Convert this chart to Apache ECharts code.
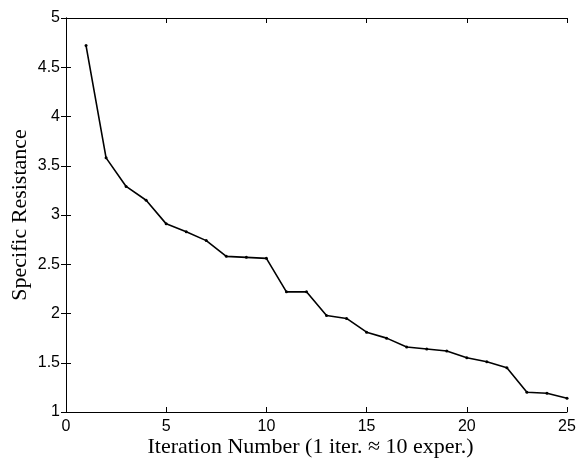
<!DOCTYPE html>
<html>
<head>
<meta charset="utf-8">
<script src="https://cdn.jsdelivr.net/npm/echarts@6/dist/echarts.min.js"></script>
<style>
  html, body { margin: 0; padding: 0; background: #fff; }
  #chart { width: 582px; height: 460px; }
</style>
</head>
<body>
<div id="chart"></div>
<script>
// iteration index and measured specific resistance
const iterations = [1, 2, 3, 4, 5, 6, 7, 8, 9, 10, 11, 12, 13, 14, 15, 16, 17, 18, 19, 20, 21, 22, 23, 24, 25];
const resistance = [4.72, 3.58, 3.29, 3.15, 2.91, 2.83, 2.74, 2.58, 2.57, 2.56, 2.22, 2.22, 1.98, 1.95, 1.81, 1.75, 1.66, 1.64, 1.62, 1.55, 1.51, 1.45, 1.20, 1.19, 1.14];

const points = iterations.map((it, i) => [it, resistance[i]]);

const chart = echarts.init(document.getElementById("chart"));
const tickFont = { fontFamily: "Liberation Sans", fontSize: 16, color: "#000" };
const titleFont = { fontFamily: "Liberation Serif", fontSize: 22, color: "#000" };
const line = { show: true, lineStyle: { color: "#000", width: 1 } };
const tick = { show: true, inside: true, length: 5, lineStyle: { color: "#000" } };

chart.setOption({
  backgroundColor: "#fff",
  animation: false,
  grid: { left: 66, right: 15, top: 18, bottom: 48, containLabel: false, outerBoundsMode: "none" },
  xAxis: [
    {
      type: "value", min: 0, max: 25, interval: 5,
      name: "Iteration Number (1 iter. \u2248 10 exper.)",
      nameLocation: "middle", nameGap: 24, nameMoveOverlap: false,
      nameTextStyle: Object.assign({ padding: [0, 12, 0, 0] }, titleFont),
      axisLine: line, axisTick: tick, splitLine: { show: false },
      axisLabel: Object.assign({ margin: 7 }, tickFont)
    },
    {
      type: "value", position: "top", min: 0, max: 25, interval: 5,
      axisLine: line, axisTick: tick, splitLine: { show: false },
      axisLabel: { show: false }
    }
  ],
  yAxis: [
    {
      type: "value", min: 1, max: 5, interval: 0.5,
      name: "Specific Resistance",
      nameLocation: "middle", nameGap: 35, nameMoveOverlap: false,
      nameTextStyle: titleFont,
      axisLine: line, axisTick: tick, splitLine: { show: false },
      axisLabel: Object.assign({ margin: 6 }, tickFont)
    },
    {
      type: "value", position: "right", min: 1, max: 5, interval: 0.5,
      axisLine: line, axisTick: tick, splitLine: { show: false },
      axisLabel: { show: false }
    }
  ],
  series: [
    {
      type: "line",
      data: points,
      symbol: "circle",
      symbolSize: 3,
      itemStyle: { color: "#000" },
      lineStyle: { color: "#000", width: 1.6 }
    }
  ]
});
</script>
</body>
</html>
